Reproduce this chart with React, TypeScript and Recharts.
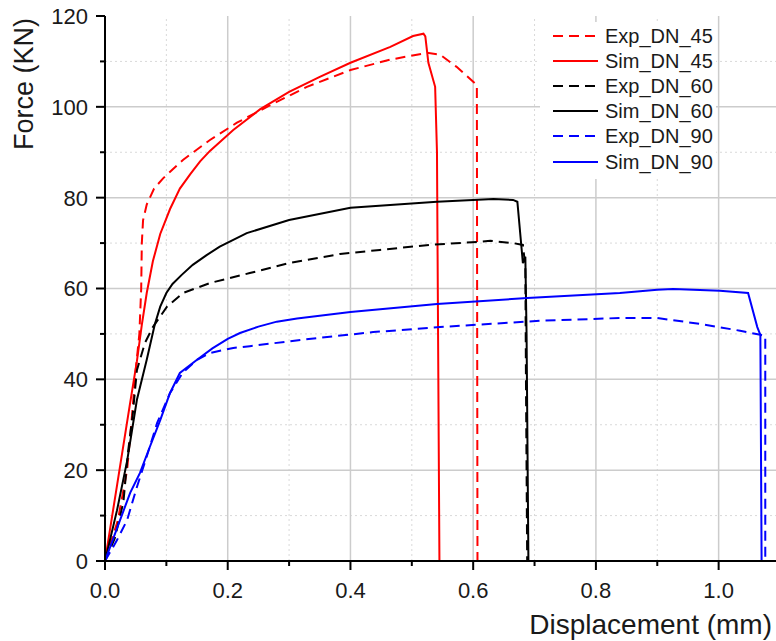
import { LineChart, Line, XAxis, YAxis, ReferenceLine, Legend, Label } from "recharts";

const FONT = "'Liberation Sans', Arial, sans-serif";

// Experimental and simulated force-displacement curves (x: mm, y: kN)
const expDN45X = [0, 0.021, 0.036, 0.044, 0.05, 0.056, 0.059, 0.06, 0.062, 0.068, 0.08, 0.095, 0.127, 0.171, 0.215, 0.264, 0.329, 0.4, 0.465, 0.525, 0.546, 0.573, 0.606, 0.607];
const expDN45Y = [0, 9, 20, 32, 42, 50, 60, 70, 75, 78.5, 82, 84.3, 88.3, 92.7, 96.5, 100, 104.4, 108.1, 110.4, 111.9, 111.5, 108.8, 104.8, 0];

const simDN45X = [0, 0.02, 0.04, 0.052, 0.06, 0.068, 0.078, 0.09, 0.106, 0.122, 0.139, 0.155, 0.171, 0.209, 0.253, 0.3, 0.35, 0.4, 0.465, 0.502, 0.519, 0.522, 0.527, 0.538, 0.541, 0.545, 0.69];
const simDN45Y = [0, 17, 34, 44, 52, 59, 66, 72, 77.5, 82, 85.2, 88, 90.3, 94.9, 99.5, 103.3, 106.6, 109.7, 113.2, 115.6, 116.1, 115.5, 109.7, 104.4, 90, 0, 0];

const expDN60X = [0, 0.016, 0.03, 0.0375, 0.045, 0.052, 0.065, 0.078, 0.101, 0.127, 0.171, 0.236, 0.3, 0.383, 0.448, 0.53, 0.611, 0.628, 0.665, 0.681, 0.685, 0.686, 0.688];
const expDN60Y = [0, 5, 13, 24, 32, 42, 48, 51.5, 56, 59, 61.2, 63.4, 65.6, 67.6, 68.5, 69.6, 70.3, 70.5, 70, 69.6, 64.8, 40, 0];

const simDN60X = [0, 0.0196, 0.036, 0.052, 0.068, 0.081, 0.09, 0.1, 0.11, 0.125, 0.143, 0.165, 0.187, 0.231, 0.3, 0.4, 0.541, 0.633, 0.665, 0.672, 0.681, 0.685, 0.687, 0.69];
const simDN60Y = [0, 11.2, 22, 35.5, 44.3, 52, 56, 59, 61, 63, 65.2, 67.3, 69.2, 72.2, 75.1, 77.8, 79.1, 79.7, 79.5, 79.1, 65.6, 67, 50, 0];

const expDN90X = [0, 0.0196, 0.036, 0.052, 0.068, 0.085, 0.106, 0.127, 0.15, 0.171, 0.209, 0.236, 0.32, 0.437, 0.546, 0.709, 0.839, 0.9, 0.97, 1.035, 1.068, 1.076, 1.076];
const expDN90Y = [0, 4.6, 9, 16.3, 23, 30.4, 37, 41.5, 44.3, 45.8, 46.9, 47.3, 48.7, 50.4, 51.5, 52.9, 53.5, 53.5, 52.2, 50.7, 49.8, 49.5, 0];

const simDN90X = [0, 0.0245, 0.041, 0.057, 0.073, 0.09, 0.106, 0.122, 0.15, 0.175, 0.2, 0.22, 0.25, 0.28, 0.313, 0.4, 0.541, 0.688, 0.839, 0.9, 0.926, 1.002, 1.048, 1.063, 1.068, 1.07];
const simDN90Y = [0, 9, 15, 19.4, 25.1, 31, 37, 41.4, 44.3, 46.8, 48.9, 50.2, 51.6, 52.7, 53.4, 54.8, 56.6, 57.9, 59, 59.7, 59.9, 59.5, 59, 51.5, 49.8, 0];

const xMajorTicks = [0, 0.2, 0.4, 0.6, 0.8, 1.0];
const xMinorTicks = [0.1, 0.3, 0.5, 0.7, 0.9];
const yMajorTicks = [0, 20, 40, 60, 80, 100, 120];
const yMinorTicks = [10, 30, 50, 70, 90, 110];

const toPoints = (xs: number[], ys: number[]) => xs.map((x, i) => ({ x, y: ys[i] }));

const series = [
  { name: "Exp_DN_45", color: "#ff0000", dashed: true, data: toPoints(expDN45X, expDN45Y) },
  { name: "Sim_DN_45", color: "#ff0000", dashed: false, data: toPoints(simDN45X, simDN45Y) },
  { name: "Exp_DN_60", color: "#000000", dashed: true, data: toPoints(expDN60X, expDN60Y) },
  { name: "Sim_DN_60", color: "#000000", dashed: false, data: toPoints(simDN60X, simDN60Y) },
  { name: "Exp_DN_90", color: "#0000ff", dashed: true, data: toPoints(expDN90X, expDN90Y) },
  { name: "Sim_DN_90", color: "#0000ff", dashed: false, data: toPoints(simDN90X, simDN90Y) },
];

const DASH = "10 6";

function XTick({ x, y, payload }: any) {
  const major = xMajorTicks.includes(payload.value);
  return (
    <g>
      <line x1={x} x2={x} y1={y} y2={y + (major ? 9 : 5)} stroke="#000" strokeWidth={2} />
      {major && (
        <text x={x} y={y + 29} dy="0.36em" textAnchor="middle" fontSize={22} fontFamily={FONT} fill="#1a1a1a">
          {payload.value.toFixed(1)}
        </text>
      )}
    </g>
  );
}

function YTick({ x, y, payload }: any) {
  const major = yMajorTicks.includes(payload.value);
  return (
    <g>
      <line x1={x - (major ? 9 : 5)} x2={x} y1={y} y2={y} stroke="#000" strokeWidth={2} />
      {major && (
        <text x={x - 17} y={y} dy="0.36em" textAnchor="end" fontSize={22} fontFamily={FONT} fill="#1a1a1a">
          {payload.value}
        </text>
      )}
    </g>
  );
}

function LegendBox() {
  return (
    <div style={{ background: "#fff", width: 176, height: 156, paddingTop: 1, fontFamily: FONT }}>
      {series.map((s) => (
        <div key={s.name} style={{ display: "flex", alignItems: "center", height: 25.2, paddingLeft: 13 }}>
          <svg width={45} height={4}>
            <line x1={0} x2={45} y1={2} y2={2} stroke={s.color} strokeWidth={2} strokeDasharray={s.dashed ? DASH : undefined} />
          </svg>
          <span style={{ marginLeft: 7, fontSize: 20, color: "#1a1a1a", lineHeight: 1 }}>{s.name}</span>
        </div>
      ))}
    </div>
  );
}

export default function App() {
  return (
    <div style={{ position: "absolute", left: 0, top: 0, width: 776, height: 641, overflow: "hidden", background: "#fff" }}>
      <LineChart width={780} height={641} margin={{ top: 16, right: 0, bottom: 0, left: 0 }}>
        <XAxis
          type="number"
          dataKey="x"
          domain={[0, 1.1]}
          allowDataOverflow
          ticks={[...xMajorTicks, ...xMinorTicks].sort((a, b) => a - b)}
          interval={0}
          height={80}
          tickSize={0}
          tickMargin={0}
          tickLine={false}
          tick={<XTick />}
          axisLine={{ stroke: "#000", strokeWidth: 2 }}
        >
          <Label
            content={({ viewBox }: any) => (
              <text x={viewBox.x + viewBox.width - 8} y={viewBox.y + 73} textAnchor="end" fontSize={28} fontFamily={FONT} fill="#1a1a1a">
                Displacement (mm)
              </text>
            )}
          />
        </XAxis>
        <YAxis
          type="number"
          domain={[0, 120]}
          ticks={[...yMajorTicks, ...yMinorTicks].sort((a, b) => a - b)}
          interval={0}
          width={105}
          tickSize={0}
          tickMargin={0}
          tickLine={false}
          tick={<YTick />}
          axisLine={{ stroke: "#000", strokeWidth: 2 }}
        >
          <Label
            content={({ viewBox }: any) => (
              <text
                x={viewBox.x + 33}
                y={viewBox.y + 68}
                textAnchor="middle"
                fontSize={27}
                fontFamily={FONT}
                fill="#1a1a1a"
                transform={`rotate(-90, ${viewBox.x + 33}, ${viewBox.y + 68})`}
              >
                Force (KN)
              </text>
            )}
          />
        </YAxis>
        {xMinorTicks.map((v) => (
          <ReferenceLine key={`xm${v}`} x={v} stroke="#d9d9d9" strokeWidth={1} strokeDasharray="2 3" />
        ))}
        {yMinorTicks.map((v) => (
          <ReferenceLine key={`ym${v}`} y={v} stroke="#d9d9d9" strokeWidth={1} strokeDasharray="2 3" />
        ))}
        {xMajorTicks.filter((v) => v > 0).map((v) => (
          <ReferenceLine key={`xM${v}`} x={v} stroke="#cccccc" strokeWidth={1.5} />
        ))}
        {yMajorTicks.filter((v) => v > 0 && v < 120).map((v) => (
          <ReferenceLine key={`yM${v}`} y={v} stroke="#cccccc" strokeWidth={1.5} />
        ))}
        {series.map((s) => (
          <Line
            key={s.name}
            data={s.data}
            dataKey="y"
            name={s.name}
            type="linear"
            stroke={s.color}
            strokeWidth={2}
            strokeDasharray={s.dashed ? DASH : undefined}
            dot={false}
            activeDot={false}
            isAnimationActive={false}
          />
        ))}
        <Legend
          layout="vertical"
          align="center"
          verticalAlign="middle"
          wrapperStyle={{ left: 540, top: 22, width: 176 }}
          content={<LegendBox />}
        />
      </LineChart>
    </div>
  );
}
